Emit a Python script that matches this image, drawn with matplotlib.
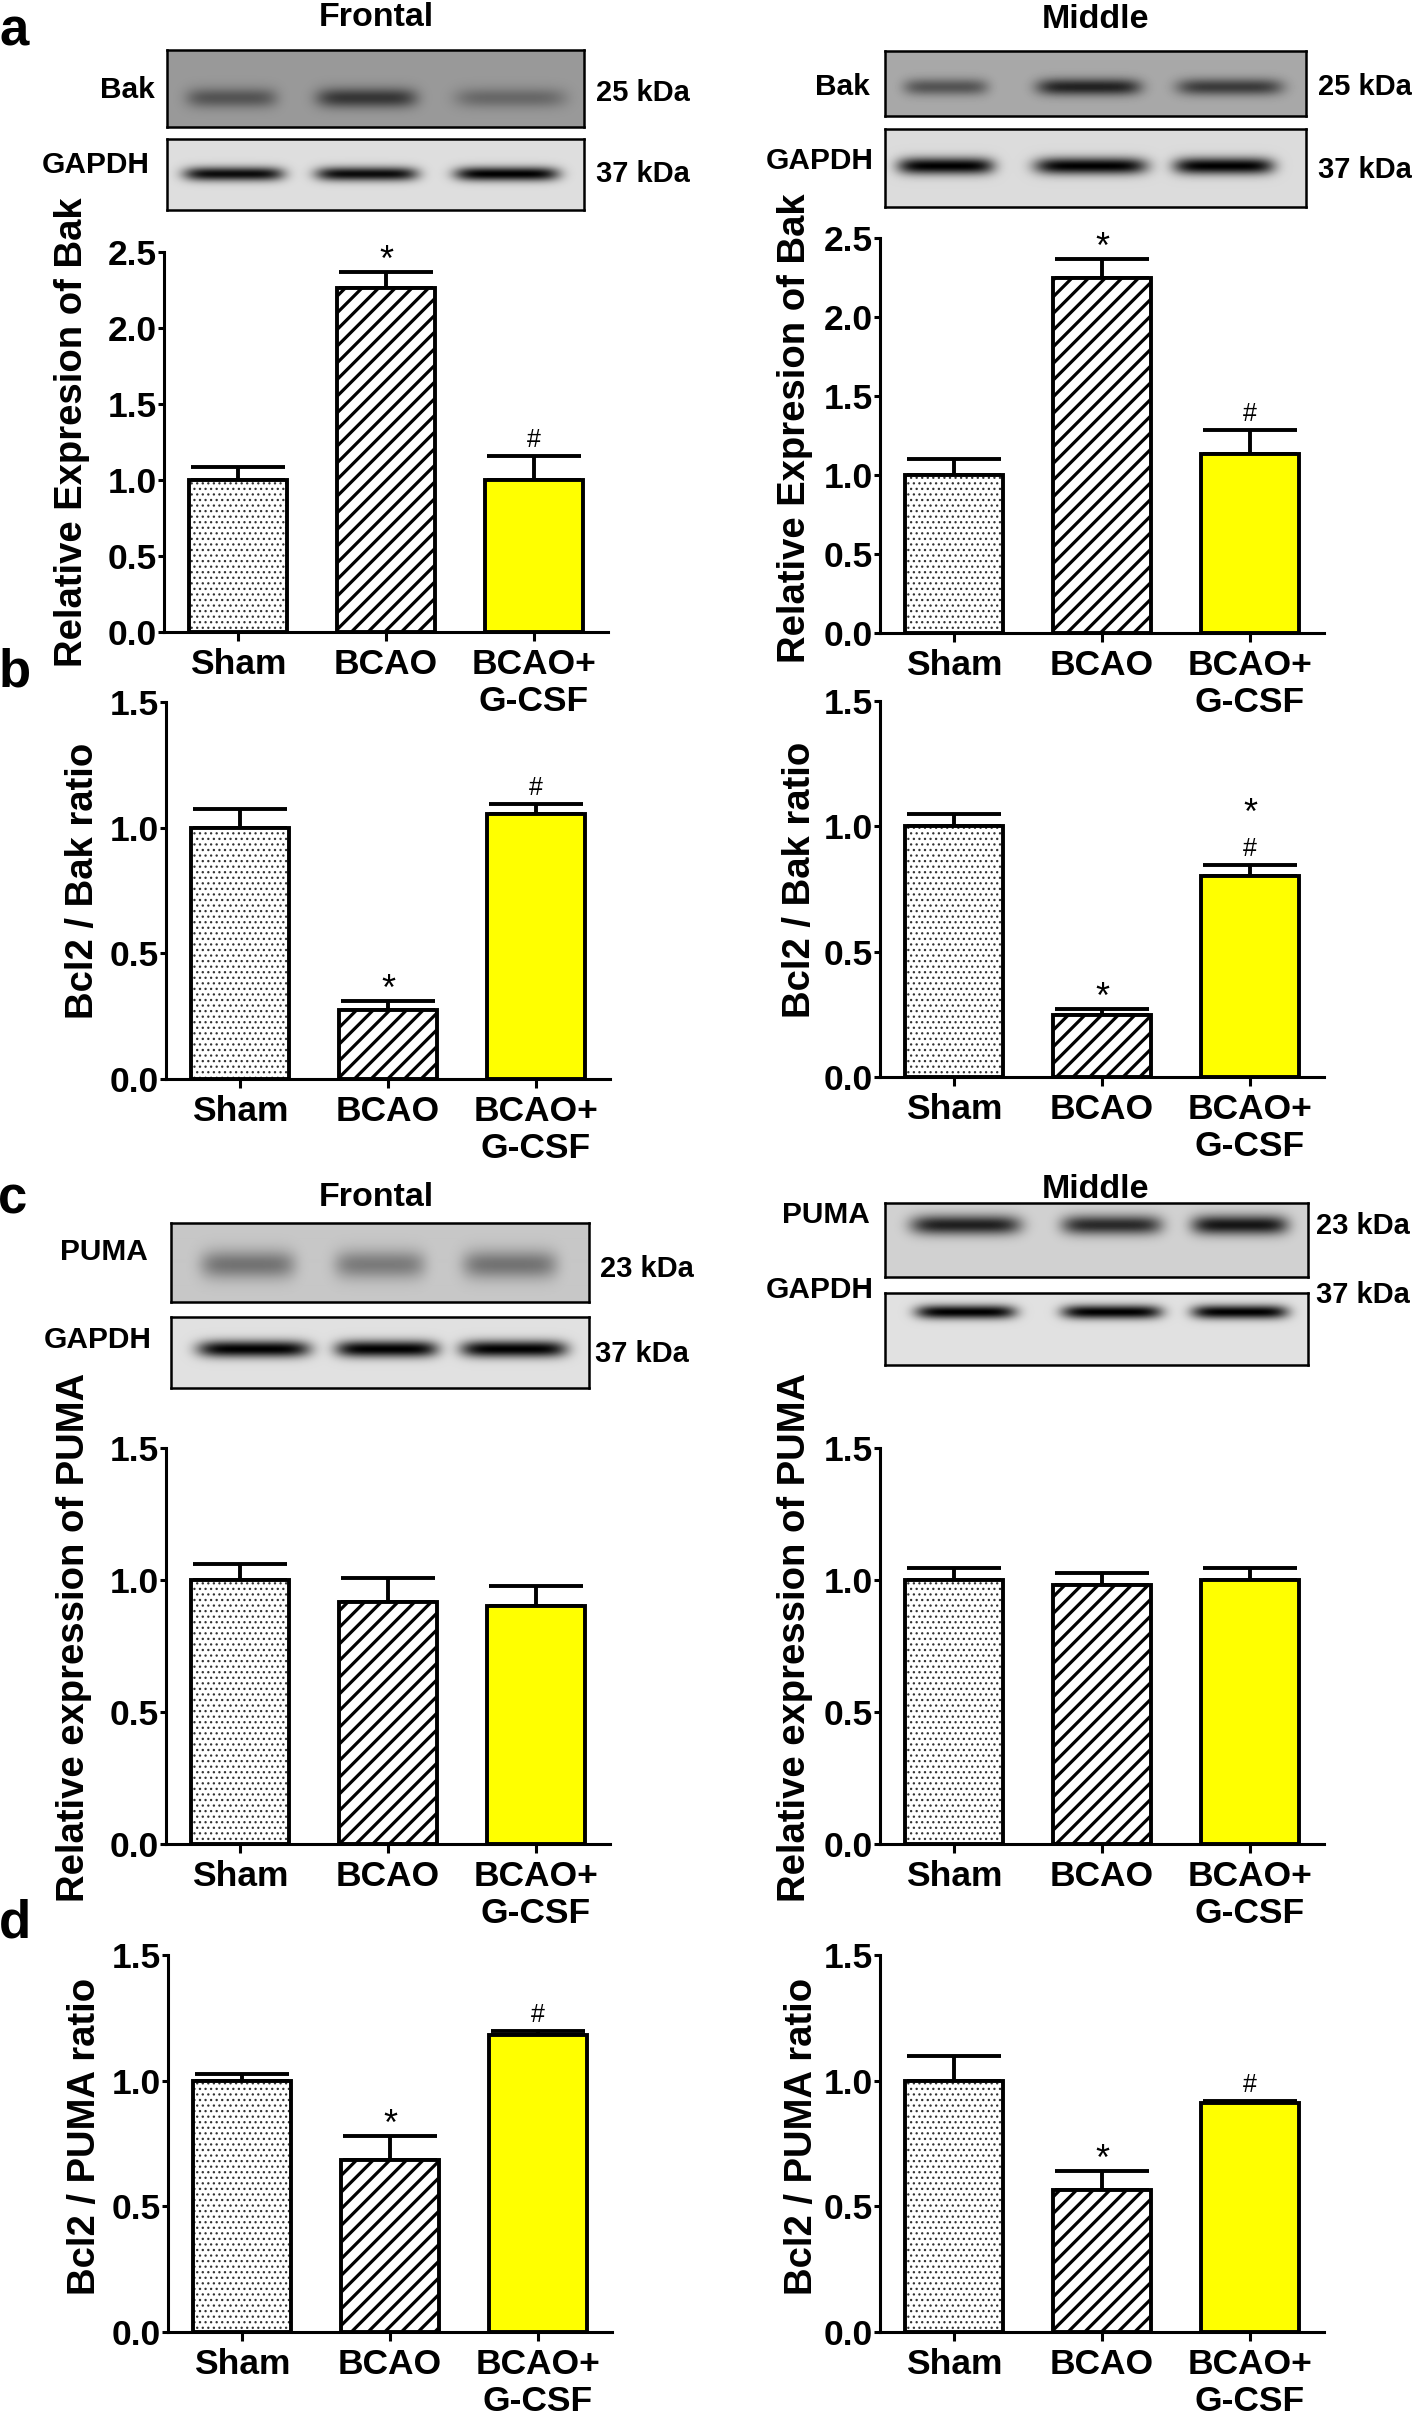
import numpy as np
import matplotlib
matplotlib.use('Agg')
import matplotlib.pyplot as plt

W, H, DPI = 1418, 2420, 100
plt.rcParams['font.family'] = ['Liberation Sans', 'DejaVu Sans']
plt.rcParams['font.weight'] = 'bold'

# ---------------- data ----------------
groups = ['Sham', 'BCAO', 'BCAO+\nG-CSF']

bak_frontal_mean = [1.00, 2.26, 1.00]
bak_frontal_err = [0.085, 0.11, 0.155]
bak_middle_mean = [1.00, 2.245, 1.13]
bak_middle_err = [0.10, 0.125, 0.155]

bcl2_bak_frontal_mean = [1.00, 0.275, 1.056]
bcl2_bak_frontal_err = [0.076, 0.037, 0.037]
bcl2_bak_middle_mean = [1.00, 0.249, 0.801]
bcl2_bak_middle_err = [0.048, 0.024, 0.044]

puma_frontal_mean = [1.00, 0.915, 0.90]
puma_frontal_err = [0.062, 0.093, 0.079]
puma_middle_mean = [1.00, 0.98, 1.00]
puma_middle_err = [0.047, 0.046, 0.045]

bcl2_puma_frontal_mean = [1.00, 0.685, 1.181]
bcl2_puma_frontal_err = [0.027, 0.095, 0.017]
bcl2_puma_middle_mean = [1.00, 0.565, 0.91]
bcl2_puma_middle_err = [0.10, 0.075, 0.01]

# significance marks per bar (bottom-up stack)
marks_a = [[], ['*'], ['#']]
marks_b_frontal = [[], ['*'], ['#']]
marks_b_middle = [[], ['*'], ['#', '*']]
marks_c = [[], [], []]
marks_d = [[], ['*'], ['#']]

# western blot band darkness per lane
bak_frontal_bands = [0.45, 0.65, 0.32]
gapdh_a_frontal_bands = [0.95, 0.95, 1.0]
bak_middle_bands = [0.5, 0.8, 0.65]
gapdh_a_middle_bands = [1.0, 1.0, 1.0]
puma_frontal_bands = [0.42, 0.38, 0.42]
gapdh_c_frontal_bands = [1.0, 1.0, 1.0]
puma_middle_bands = [0.85, 0.8, 0.9]
gapdh_c_middle_bands = [1.0, 1.0, 1.0]

# ---------------- figure ----------------
fig = plt.figure(figsize=(W / DPI, H / DPI), dpi=DPI)

TICK_FS = 25.5
YLAB_FS = 27.5
BLOT_FS = 21.5
KDA_FS = 21
TITLE_FS = 24.5
LETTER_FS = 38


def px_axes(x0, y0, x1, y1):
    ax = fig.add_axes([x0 / W, 1 - y1 / H, (x1 - x0) / W, (y1 - y0) / H])
    ax.patch.set_visible(False)
    return ax


def ftext(x, y, s, **kw):
    fig.text(x / W, 1 - y / H, s, **kw)


def set_hlw(patch, lw):
    if hasattr(patch, 'set_hatch_linewidth'):
        patch.set_hatch_linewidth(lw)


def bar_panel(box, means, errs, marks, ymax, ylabel, ylab_xy):
    ax = px_axes(*box)
    x = np.arange(len(means))
    width = 0.66
    blw = 2.8
    # Sham: dotted
    with plt.rc_context({'hatch.linewidth': 0.9}):
        b0 = ax.bar(x[0], means[0], width, color='white', edgecolor='#333333',
                    hatch='...', linewidth=0, zorder=2)
    for p in b0:
        set_hlw(p, 0.9)
    ax.bar(x[0], means[0], width, fill=False, edgecolor='black', linewidth=blw,
           zorder=3, clip_on=False)
    # BCAO: diagonal hatch
    with plt.rc_context({'hatch.linewidth': 2.3}):
        b1 = ax.bar(x[1], means[1], width, color='white', edgecolor='black',
                    hatch='//', linewidth=blw, zorder=3, clip_on=False)
    for p in b1:
        set_hlw(p, 2.3)
    # BCAO + G-CSF: yellow
    ax.bar(x[2], means[2], width, color='#FFFF00', edgecolor='black',
           linewidth=blw, zorder=3, clip_on=False)
    ax.errorbar(x, means, yerr=[np.zeros(len(means)), errs], fmt='none',
                ecolor='black', elinewidth=2.8, capsize=34, capthick=2.8,
                zorder=1)
    for i, mk in enumerate(marks):
        base = means[i] + errs[i]
        off = 0
        for m in mk:
            if m == '*':
                ax.annotate('*', xy=(x[i], base), xytext=(0, off - 7),
                            textcoords='offset pixels', ha='center',
                            va='bottom', fontsize=26, fontweight='normal')
                off += 30
            else:
                ax.annotate('#', xy=(x[i], base), xytext=(0, off + 4),
                            textcoords='offset pixels', ha='center',
                            va='bottom', fontsize=18, fontweight='normal')
                off += 40
    ax.set_xlim(-0.5, len(means) - 0.5)
    ax.set_ylim(0, ymax)
    ax.set_yticks(np.arange(0, ymax + 0.01, 0.5))
    ax.set_yticklabels(['%.1f' % v for v in np.arange(0, ymax + 0.01, 0.5)])
    ax.set_xticks(x)
    ax.set_xticklabels(groups, linespacing=1.15)
    for s in ['top', 'right']:
        ax.spines[s].set_visible(False)
    for s in ['left', 'bottom']:
        ax.spines[s].set_linewidth(2.2)
    ax.tick_params(axis='y', length=4.5, width=2.2, pad=0.5, labelsize=TICK_FS)
    ax.tick_params(axis='x', length=6.5, width=2.2, pad=5, labelsize=TICK_FS)
    for t in ax.get_xticklabels() + ax.get_yticklabels():
        t.set_fontweight('bold')
    ftext(ylab_xy[0], ylab_xy[1], ylabel, rotation=90, ha='center',
          va='center', fontsize=YLAB_FS, fontweight='bold')
    return ax


def blot(box, bg, centers, halfw, yc, sigma, dark):
    x0, y0, x1, y1 = box
    ax = px_axes(x0, y0, x1, y1)
    ax.patch.set_visible(True)
    w, h = int(x1 - x0), int(y1 - y0)
    xx = np.arange(w) + x0 + 0.5
    yy = np.arange(h) + y0 + 0.5
    img = np.full((h, w), bg, dtype=float)
    for c, hw, d in zip(centers, halfw, dark):
        pxp = np.exp(-((xx - c) / hw) ** 6)
        pyp = np.exp(-0.5 * ((yy - yc) / sigma) ** 2)
        img *= 1 - d * np.outer(pyp, pxp)
    ax.imshow(img, cmap='gray', vmin=0, vmax=1, aspect='auto',
              interpolation='bilinear')
    ax.set_xticks([])
    ax.set_yticks([])
    for s in ax.spines.values():
        s.set_linewidth(1.8)
    return ax


# ---------------- panel a ----------------
ftext(14, 32, 'a', fontsize=LETTER_FS, fontweight='bold', ha='center', va='center')
ftext(376, 17, 'Frontal', fontsize=TITLE_FS, fontweight='bold', ha='center', va='center')
ftext(1095, 20, 'Middle', fontsize=TITLE_FS, fontweight='bold', ha='center', va='center')

blot((167, 50, 584, 127), 0.60, [232, 367, 511], [45, 50, 55], 98, 7, bak_frontal_bands)
blot((167, 139, 584, 210), 0.87, [234, 367, 507], [50, 51, 52], 174, 5, gapdh_a_frontal_bands)
ftext(155, 90, 'Bak', fontsize=BLOT_FS, ha='right', va='center')
ftext(150, 165, 'GAPDH', fontsize=BLOT_FS, ha='right', va='center')
ftext(596, 93, '25 kDa', fontsize=KDA_FS, ha='left', va='center')
ftext(596, 174, '37 kDa', fontsize=KDA_FS, ha='left', va='center')

blot((885, 51, 1306, 116), 0.66, [946, 1089, 1230], [42, 52, 53], 87, 6, bak_middle_bands)
blot((885, 129, 1306, 207), 0.86, [946, 1091, 1224], [48, 56, 50], 166, 6, gapdh_a_middle_bands)
ftext(870, 87, 'Bak', fontsize=BLOT_FS, ha='right', va='center')
ftext(874, 161, 'GAPDH', fontsize=BLOT_FS, ha='right', va='center')
ftext(1318, 87, '25 kDa', fontsize=KDA_FS, ha='left', va='center')
ftext(1318, 170, '37 kDa', fontsize=KDA_FS, ha='left', va='center')

bar_panel((164, 252, 608, 632), bak_frontal_mean, bak_frontal_err, marks_a, 2.5,
          'Relative Expresion of Bak', (72, 432))
bar_panel((880, 238, 1324, 633), bak_middle_mean, bak_middle_err, marks_a, 2.5,
          'Relative Expresion of Bak', (795, 428))

# ---------------- panel b ----------------
ftext(15, 672, 'b', fontsize=LETTER_FS, fontweight='bold', ha='center', va='center')
bar_panel((166, 702, 610, 1079), bcl2_bak_frontal_mean, bcl2_bak_frontal_err,
          marks_b_frontal, 1.5, 'Bcl2 / Bak ratio', (83, 881))
bar_panel((880, 701, 1324, 1077), bcl2_bak_middle_mean, bcl2_bak_middle_err,
          marks_b_middle, 1.5, 'Bcl2 / Bak ratio', (800, 880))

# ---------------- panel c ----------------
ftext(13, 1200, 'c', fontsize=LETTER_FS, fontweight='bold', ha='center', va='center')
ftext(376, 1198, 'Frontal', fontsize=TITLE_FS, fontweight='bold', ha='center', va='center')
ftext(1095, 1190, 'Middle', fontsize=TITLE_FS, fontweight='bold', ha='center', va='center')

blot((171, 1223, 589, 1302), 0.78, [248, 380, 510], [47, 45, 47], 1265, 10, puma_frontal_bands)
blot((171, 1317, 589, 1388), 0.88, [254, 387, 514], [56, 51, 53], 1349, 6, gapdh_c_frontal_bands)
ftext(148, 1252, 'PUMA', fontsize=BLOT_FS, ha='right', va='center')
ftext(152, 1340, 'GAPDH', fontsize=BLOT_FS, ha='right', va='center')
ftext(600, 1269, '23 kDa', fontsize=KDA_FS, ha='left', va='center')
ftext(595, 1354, '37 kDa', fontsize=KDA_FS, ha='left', va='center')

blot((885, 1203, 1308, 1277), 0.82, [966, 1112, 1240], [55, 50, 48], 1225, 7, puma_middle_bands)
blot((885, 1293, 1308, 1365), 0.88, [966, 1112, 1240], [50, 50, 48], 1312, 5, gapdh_c_middle_bands)
ftext(870, 1215, 'PUMA', fontsize=BLOT_FS, ha='right', va='center')
ftext(874, 1290, 'GAPDH', fontsize=BLOT_FS, ha='right', va='center')
ftext(1316, 1226, '23 kDa', fontsize=KDA_FS, ha='left', va='center')
ftext(1316, 1295, '37 kDa', fontsize=KDA_FS, ha='left', va='center')

bar_panel((166, 1448, 610, 1844), puma_frontal_mean, puma_frontal_err, marks_c, 1.5,
          'Relative expression of PUMA', (74, 1637))
bar_panel((880, 1448, 1324, 1844), puma_middle_mean, puma_middle_err, marks_c, 1.5,
          'Relative expression of PUMA', (795, 1637))

# ---------------- panel d ----------------
ftext(15, 1923, 'd', fontsize=LETTER_FS, fontweight='bold', ha='center', va='center')
bar_panel((168, 1955, 612, 2332), bcl2_puma_frontal_mean, bcl2_puma_frontal_err,
          marks_d, 1.5, 'Bcl2 / PUMA ratio', (85, 2136))
bar_panel((880, 1955, 1324, 2332), bcl2_puma_middle_mean, bcl2_puma_middle_err,
          marks_d, 1.5, 'Bcl2 / PUMA ratio', (802, 2136))

fig.savefig('out.png', dpi=DPI, facecolor='white')
